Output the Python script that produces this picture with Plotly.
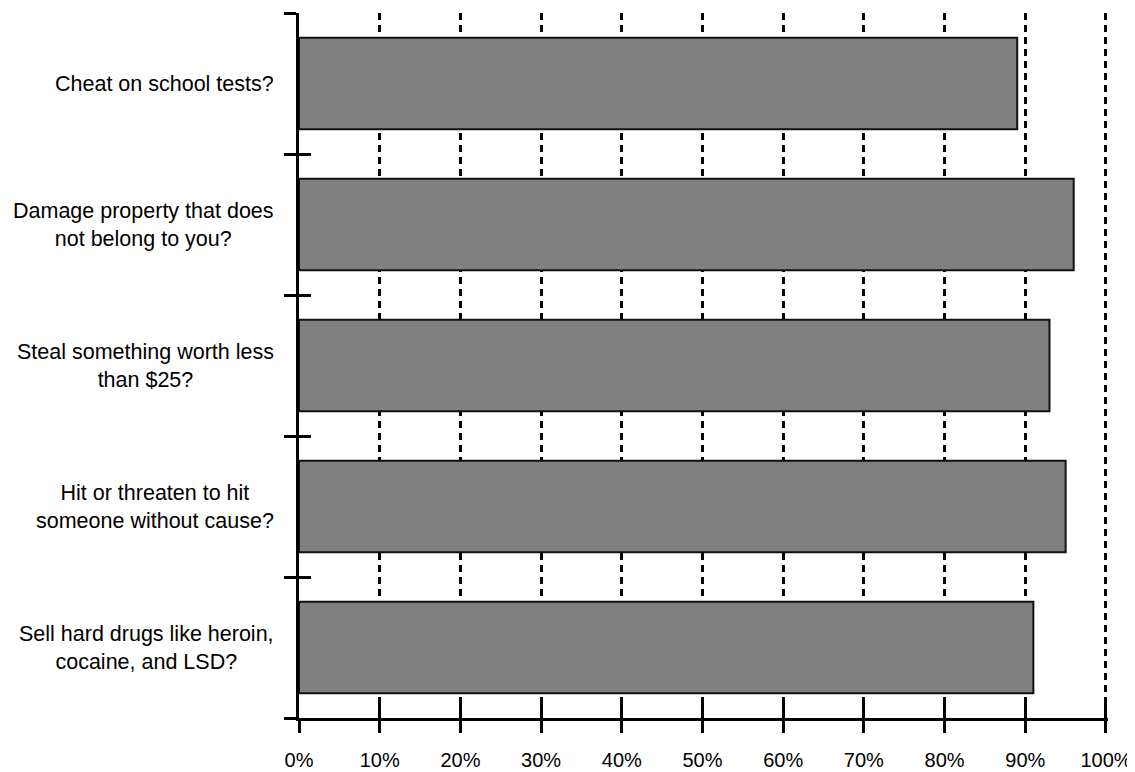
import plotly.graph_objects as go

categories = [
    "Cheat on school tests?",
    "Damage property that does<br>not belong to you?",
    "Steal something worth less<br>than $25?",
    "Hit or threaten to hit<br>someone without cause?",
    "Sell hard drugs like heroin,<br>cocaine, and LSD?",
]
values = [89, 96, 93, 95, 91]
tick_vals = [0, 10, 20, 30, 40, 50, 60, 70, 80, 90, 100]
tick_text = [f"{v}%" for v in tick_vals]

order = categories[::-1]
FONT = "Liberation Sans, Arial, sans-serif"

fig = go.Figure()
fig.add_trace(go.Bar(
    x=values, y=categories, orientation="h",
    width=0.65,
    marker=dict(color="#808080", line=dict(color="#111111", width=2)),
    hoverinfo="skip", showlegend=False,
))
fig.add_trace(go.Scatter(
    x=values, y=categories, xaxis="x2", yaxis="y2",
    mode="markers", marker=dict(opacity=0), hoverinfo="skip", showlegend=False,
))

for c in categories:
    fig.add_annotation(
        x=0, xref="paper", y=c, yref="y", text=c, showarrow=False,
        xanchor="right", yanchor="middle", align="center", xshift=-23,
        font=dict(family=FONT, size=21.5, color="#000"),
    )

XRANGE = [0, 100.25]

fig.update_layout(
    width=1127, height=764,
    margin=dict(l=291, r=27, t=5, b=54, autoexpand=False),
    plot_bgcolor="white", paper_bgcolor="white",
    xaxis=dict(
        range=XRANGE, tickvals=tick_vals, ticktext=tick_text, automargin=False,
        showgrid=True, gridcolor="#000", gridwidth=2.5, griddash="7px,5px",
        zeroline=False, showline=True, linecolor="#000", linewidth=3,
        ticks="outside", ticklen=12, tickwidth=3, tickcolor="#000",
        ticklabelstandoff=10,
        tickfont=dict(family=FONT, size=20, color="#000"),
    ),
    xaxis2=dict(
        range=XRANGE, tickvals=tick_vals, overlaying="x", anchor="y2", side="bottom",
        automargin=False,
        showgrid=False, zeroline=False, showline=False, showticklabels=False,
        ticks="inside", ticklen=16, tickwidth=3, tickcolor="#000",
    ),
    yaxis=dict(
        type="category", categoryorder="array", categoryarray=order,
        range=[-0.5, 4.5], tickson="boundaries", automargin=False,
        showgrid=False, zeroline=False, showline=True, linecolor="#000", linewidth=3,
        ticks="outside", ticklen=12, tickwidth=3, tickcolor="#000",
        showticklabels=False,
    ),
    yaxis2=dict(
        type="category", categoryorder="array", categoryarray=order,
        range=[-0.5, 4.5], tickson="boundaries", overlaying="y", anchor="x2", side="left",
        automargin=False,
        showgrid=False, zeroline=False, showline=False, showticklabels=False,
        ticks="inside", ticklen=12, tickwidth=3, tickcolor="#000",
    ),
)

fig.write_html("out.html")
